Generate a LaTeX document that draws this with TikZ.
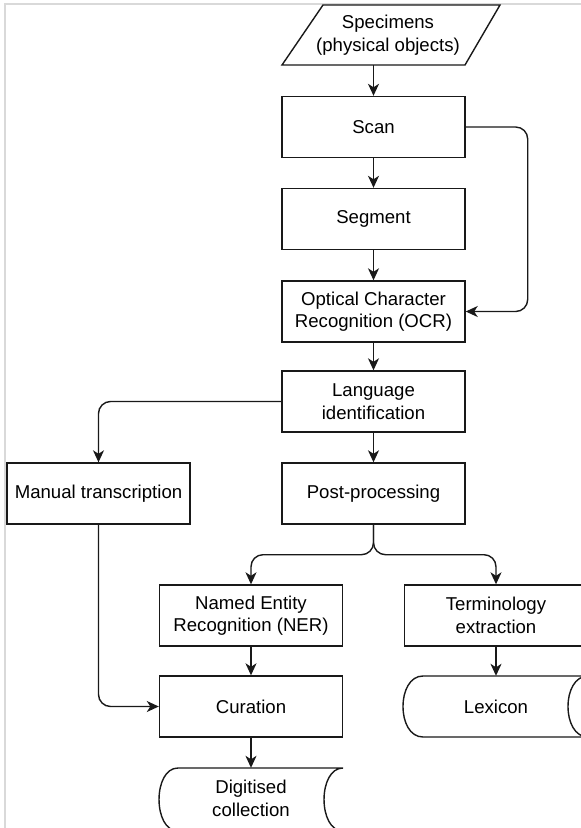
\documentclass[tikz,border=0pt]{standalone}
\usepackage{fontspec}
\setmainfont{Liberation Sans}
\usetikzlibrary{arrows.meta,calc}
\begin{document}
\begin{tikzpicture}[x=1pt,y=-1pt,
  every node/.style={font=\fontsize{18.6}{22.5}\selectfont, align=center, inner sep=0pt},
  box/.style={draw=black!90, line width=1.4pt, minimum width=183pt, minimum height=61pt},
  ghost/.style={minimum width=183pt, minimum height=61pt},
  shp/.style={draw=black!90, line width=1.4pt},
  arr/.style={draw=black!90, line width=1.4pt, -{Stealth[length=12pt,width=11pt,inset=3.5pt]}},
  frame/.style={draw=black!15, line width=1.5pt}]
\useasboundingbox (0,0) rectangle (581,828);
\clip (0,0) rectangle (581,828);
\draw[frame] (5,828) -- (5,4) -- (581,4);

% input parallelogram
\draw[shp] (323,5) -- (500,5) -- (465,65) -- (282,65) -- cycle;
\node[minimum height=60pt] (spec) at (388,35) {Specimens\\(physical objects)};

\node[box] (scan) at (373.5,127) {Scan};
\node[box] (seg)  at (373.5,219) {Segment};
\node[box] (ocr)  at (373.5,311.5) {Optical Character\\Recognition (OCR)};
\node[box] (lang) at (373.5,401.5) {Language\\identification};
\node[box] (post) at (373.5,493.5) {Post-processing};
\node[box] (man)  at (98.5,493.5) {Manual transcription};
\node[box] (ner)  at (251,615.5) {Named Entity\\Recognition (NER)};
\node[box] (term) at (496,615.5) {Terminology\\extraction};
\node[box] (cur)  at (251,706.5) {Curation};

% stored data shapes
\node[ghost] (lex) at (496,706.5) {Lexicon};
\draw[shp] (423,676) -- (588,676) .. controls (561.3,676) and (561.3,737) .. (588,737)
  -- (423,737) .. controls (396.3,737) and (396.3,676) .. (423,676) -- cycle;
\node[ghost] (dig) at (251,798.5) {Digitised\\collection};
\draw[shp] (178,768) -- (343,768) .. controls (317.7,768) and (317.7,831) .. (343,831)
  -- (178,831) .. controls (152.7,831) and (152.7,768) .. (178,768) -- cycle;

% connectors
\draw[arr] (spec.south -| scan.north) -- (scan.north);
\draw[arr] (scan) -- (seg);
\draw[arr,rounded corners=12pt] (scan.east) -- ++(62,0) |- (ocr.east);
\draw[arr] (seg) -- (ocr);
\draw[arr] (ocr) -- (lang);
\draw[arr,rounded corners=12pt] (lang.west) -| (man.north);
\draw[arr] (lang) -- (post);
\draw[arr,rounded corners=12pt] (post.south) -- ++(0,30) -| (ner.north);
\draw[arr,rounded corners=12pt] (post.south) -- ++(0,30) -| (term.north);
\draw[arr] (ner) -- (cur);
\draw[arr,rounded corners=12pt] (man.south) |- (cur.west);
\draw[arr] (term) -- (lex);
\draw[arr] (cur) -- (dig);
\end{tikzpicture}
\end{document}
